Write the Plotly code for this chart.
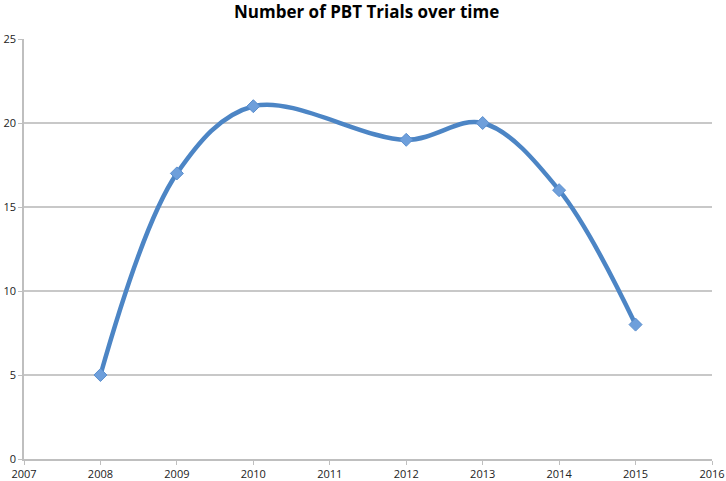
import plotly.graph_objects as go

# dados
anos = [2008, 2009, 2010, 2012, 2013, 2014, 2015]
ensaios = [5, 17, 21, 19, 20, 16, 8]

fig = go.Figure()
fig.add_trace(go.Scatter(
    x=anos, y=ensaios, mode='lines+markers',
    line=dict(color='#4C85C5', width=4.5, shape='spline', smoothing=1.0),
    marker=dict(symbol='diamond', size=10, color='#6E9FDB',
                line=dict(color='#5B8FCE', width=1)),
))

fig.update_layout(
    width=726, height=481,
    margin=dict(l=24, r=14, t=39, b=22),
    paper_bgcolor='white', plot_bgcolor='white',
    showlegend=False,
    title=dict(text='<b>Number of PBT Trials over time</b>', x=0.505, xanchor='center',
               y=0.975, yanchor='middle',
               font=dict(family='Open Sans', size=17, color='black')),
    font=dict(family='Open Sans', size=11, color='#222'),
)
fig.update_xaxes(range=[2007, 2016], dtick=1, tick0=2007, showgrid=False, automargin=False,
                 showline=True, linecolor='#BFBFBF', linewidth=1.5,
                 ticks='outside', ticklen=4, tickcolor='#BFBFBF', zeroline=False)
fig.update_yaxes(range=[0, 25], dtick=5, showgrid=True, gridcolor='#C8C8C8', gridwidth=1.5,
                 showline=True, linecolor='#BFBFBF', linewidth=1.5, automargin=False,
                 ticks='outside', ticklen=4, tickcolor='#BFBFBF', zeroline=False)

# tirando a margem padrao do body e a barra de ferramentas
fig.write_html("out.html", config={'displayModeBar': False},
               post_script="document.body.style.margin='0';")
